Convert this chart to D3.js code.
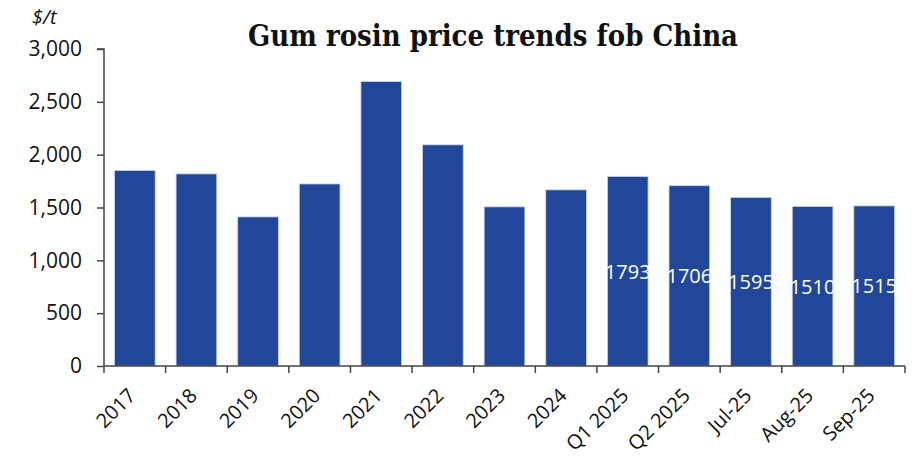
<!DOCTYPE html>
<html><head><meta charset="utf-8">
<script src="https://cdn.jsdelivr.net/npm/d3@7/dist/d3.min.js"></script>
<style>
html,body{margin:0;padding:0;background:#fff;}
svg{display:block;}
</style></head>
<body>
<svg id="chart" width="918" height="456"></svg>
<script>
const categories = ["2017","2018","2019","2020","2021","2022","2023","2024","Q1 2025","Q2 2025","Jul-25","Aug-25","Sep-25"];
const prices = [1850,1818,1411,1723,2692,2093,1506,1667,1793,1706,1595,1510,1515];
const labelled = [false,false,false,false,false,false,false,false,true,true,true,true,true];
const yTicks = [0,500,1000,1500,2000,2500,3000];
const titleText = "Gum rosin price trends fob China";
const unitText = "$/t";

(function(){
const svg = d3.select("#chart");
const mLeft = 104, mRight = 905, mTop = 49, mBottom = 366;
const barColor = "#22479a";
const axisColor = "#444";

const x = d3.scaleBand().domain(categories).range([mLeft, mRight]).paddingInner(0.34).paddingOuter(0.17);
const y = d3.scaleLinear().domain([0, 3000]).range([mBottom, mTop]);

// bars
svg.append("g").selectAll("rect").data(categories).join("rect")
  .attr("x", d => x(d))
  .attr("y", (d,i) => y(prices[i]))
  .attr("width", x.bandwidth())
  .attr("height", (d,i) => y(0) - y(prices[i]))
  .attr("fill", barColor)
  .attr("stroke", "#c9d3ea").attr("stroke-width", 0.8);

// data labels
svg.append("g").selectAll("text").data(categories.filter((d,i)=>labelled[i])).join("text")
  .attr("x", d => x(d) + x.bandwidth()/2)
  .attr("y", d => (y(prices[categories.indexOf(d)]) + y(0))/2)
  .attr("text-anchor","middle").attr("dominant-baseline","central")
  .attr("fill","#fff").attr("font-family","'Open Sans'").attr("font-size",20)
  .text(d => prices[categories.indexOf(d)]);

// y axis
const yAxis = d3.axisLeft(y).tickValues(yTicks).tickSize(7).tickPadding(15).tickFormat(d3.format(","));
const gy = svg.append("g").attr("transform", `translate(${mLeft},0)`).call(yAxis);
gy.select(".domain").attr("stroke", axisColor).attr("stroke-width", 1.5).attr("d", `M-7,${mTop}H0V${mBottom}`);
gy.selectAll(".tick line").attr("stroke", axisColor).attr("stroke-width", 1.5);
gy.selectAll(".tick text").attr("font-family","'Open Sans'").attr("font-size",21).attr("fill","#111");

// x axis
const step = x.step();
const gx = svg.append("g");
gx.append("line").attr("x1", mLeft).attr("x2", mRight).attr("y1", mBottom).attr("y2", mBottom)
  .attr("stroke", axisColor).attr("stroke-width", 1.5);
gx.selectAll("line.tk").data(d3.range(categories.length + 1)).join("line").attr("class","tk")
  .attr("x1", i => mLeft + i*step).attr("x2", i => mLeft + i*step)
  .attr("y1", mBottom).attr("y2", mBottom + 7)
  .attr("stroke", axisColor).attr("stroke-width", 1.5);
gx.selectAll("text").data(categories).join("text")
  .attr("transform", d => `translate(${x(d) + x.bandwidth()/2 + 2},${mBottom + 31}) rotate(-45)`)
  .attr("text-anchor","end")
  .attr("font-family","'Open Sans'").attr("font-size",20).attr("fill","#111")
  .text(d => d);

// unit label
svg.append("text").attr("x", 32).attr("y", 24)
  .attr("font-family","'Open Sans'").attr("font-style","italic").attr("font-size",20).attr("fill","#111")
  .text(unitText);

// title
svg.append("text").attr("x", 248).attr("y", 46)
  .attr("font-family","'DejaVu Serif'").attr("font-weight","bold").attr("font-size",30).attr("fill","#111")
  .attr("textLength", 490).attr("lengthAdjust","spacingAndGlyphs")
  .text(titleText);
})();
</script>
</body></html>
